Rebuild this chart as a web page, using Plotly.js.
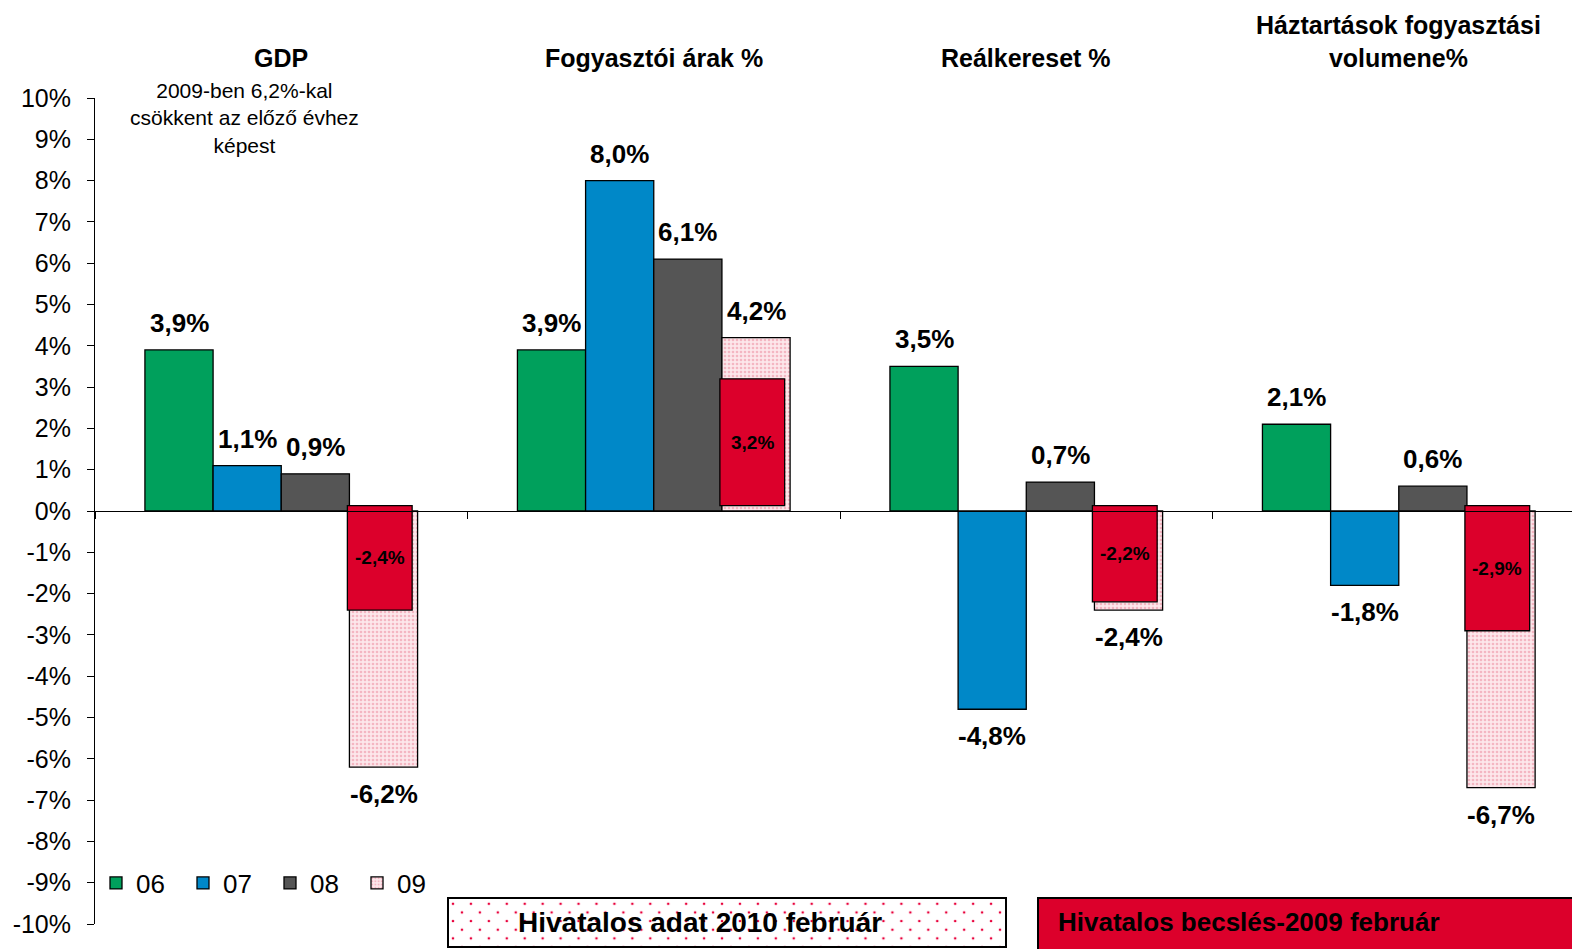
<!DOCTYPE html>
<html>
<head>
<meta charset="utf-8">
<script src="https://cdn.plot.ly/plotly-3.0.1.min.js"></script>
<style>html,body{margin:0;padding:0;background:#fff;}#chart{width:1572px;height:949px;}</style>
</head>
<body>
<div id="chart"></div>
<script>
// ---- data ----
const categories = ['GDP', 'Fogyasztói árak %', 'Reálkereset %', 'Háztartások fogyasztási<br>volumene%'];
const seriesNames = ['06', '07', '08', '09'];
const values06 = [3.9, 3.9, 3.5, 2.1];
const values07 = [1.1, 8.0, -4.8, -1.8];
const values08 = [0.9, 6.1, 0.7, 0.6];
const values09 = [-6.2, 4.2, -2.4, -6.7];
const estimate2009Feb = [-2.4, 3.2, -2.2, -2.9];
const yTickVals = [10, 9, 8, 7, 6, 5, 4, 3, 2, 1, 0, -1, -2, -3, -4, -5, -6, -7, -8, -9, -10];
const yTickText = yTickVals.map(v => v + '%');
const gdpNote = '2009-ben 6,2%-kal<br>csökkent az előző évhez<br>képest';
const boxLabelOfficial = 'Hivatalos adat 2010 február';
const boxLabelEstimate = 'Hivatalos becslés-2009 február';

// ---- style ----
const FONT = 'Liberation Sans, Arial, sans-serif';
const colors = ['#00a05c', '#0088c8', '#555555', '#fde3e8'];
const RED = '#dc002b';
const BARGAP = 0.268;
const BW = (1 - BARGAP) / 4;
const RED_OFFSET = BW * 0.97;
const RED_WIDTH = BW * 0.95;
const redBaseline = 0.13;
const fmt = v => v.toFixed(1).replace('.', ',') + '%';

const seriesValues = [values06, values07, values08, values09];

const traces = seriesValues.map((vals, si) => {
  const t = {
    type: 'bar',
    name: seriesNames[si],
    x: categories,
    y: vals,
    marker: {color: colors[si], line: {color: '#000', width: 1.3}},
    hoverinfo: 'skip'
  };
  if (si === 3) {
    t.marker.pattern = {shape: '.', fgcolor: '#f4b6c2', bgcolor: '#fde7eb', size: 4, solidity: 0.35, fillmode: 'replace'};
  }
  return t;
});

traces.push({
  type: 'bar',
  name: 'becslés',
  showlegend: false,
  x: categories,
  base: estimate2009Feb.map(() => redBaseline),
  y: estimate2009Feb.map(v => v - redBaseline),
  offset: RED_OFFSET,
  width: RED_WIDTH,
  marker: {color: RED, line: {color: '#000', width: 1.3}},
  hoverinfo: 'skip'
});

const annotations = [];
// data labels
seriesValues.forEach((vals, si) => {
  vals.forEach((v, gi) => {
    annotations.push({
      xref: 'x', yref: 'y',
      x: gi + (si - 1.5) * BW,
      y: v,
      text: fmt(v),
      showarrow: false,
      xanchor: 'center',
      yanchor: v >= 0 ? 'bottom' : 'top',
      yshift: v >= 0 ? 10 : -10,
      font: {family: FONT, size: 26, color: '#000', weight: 'bold'}
    });
  });
});
// red estimate labels (inside box)
estimate2009Feb.forEach((v, gi) => {
  annotations.push({
    xref: 'x', yref: 'y',
    x: gi + RED_OFFSET + RED_WIDTH / 2,
    y: (v + redBaseline) / 2,
    text: fmt(v), showarrow: false, xanchor: 'center', yanchor: 'middle',
    font: {family: FONT, size: 19, color: '#000', weight: 'bold'}
  });
});
// group titles
categories.forEach((c, gi) => {
  annotations.push({
    xref: 'x', yref: 'paper', x: gi, y: 1,
    text: c, showarrow: false, xanchor: 'center', yanchor: 'bottom', yshift: 24,
    font: {family: FONT, size: 25, color: '#000', weight: 'bold'}
  });
});
// GDP note
annotations.push({
  xref: 'x', yref: 'paper', x: 0, y: 1, xshift: -37, yshift: 21,
  text: gdpNote, showarrow: false, xanchor: 'center', yanchor: 'top',
  font: {family: FONT, size: 21, color: '#000'}
});
// bottom boxes text
const px = p => (p - 95) / 1477;
const py = p => (924 - p) / 826;
annotations.push({
  xref: 'paper', yref: 'paper', x: px(700), y: py(922),
  text: boxLabelOfficial, showarrow: false, xanchor: 'center', yanchor: 'middle',
  font: {family: FONT, size: 28, color: '#000', weight: 'bold'}
});
annotations.push({
  xref: 'paper', yref: 'paper', x: px(1056), y: py(922),
  text: boxLabelEstimate, showarrow: false, xanchor: 'left', yanchor: 'middle',
  font: {family: FONT, size: 26, color: '#000', weight: 'bold'}
});

const dotSvg = "<svg xmlns='http://www.w3.org/2000/svg' width='558' height='50' viewBox='0 0 558 50'>" +
  "<defs><pattern id='p' width='18' height='18' patternUnits='userSpaceOnUse'>" +
  "<circle cx='4' cy='5' r='1.3' fill='#e8003a'/><circle cx='13' cy='14' r='1.3' fill='#e8003a'/>" +
  "</pattern></defs><rect width='558' height='50' fill='#ffffff'/><rect width='558' height='50' fill='url(#p)'/></svg>";

const layout = {
  width: 1572, height: 949,
  margin: {l: 95, r: 0, t: 98, b: 25},
  paper_bgcolor: '#fff', plot_bgcolor: 'rgba(0,0,0,0)',
  font: {family: FONT, color: '#000'},
  barmode: 'group', bargap: BARGAP, bargroupgap: 0,
  showlegend: true,
  legend: {
    orientation: 'h', x: px(96), y: py(883), xanchor: 'left', yanchor: 'middle',
    font: {family: FONT, size: 26, color: '#000'},
    entrywidth: 42, entrywidthmode: 'pixels', itemwidth: 30,
    bgcolor: 'rgba(0,0,0,0)', traceorder: 'normal'
  },
  xaxis: {
    type: 'category', range: [-0.5, 3.465], autorange: false,
    anchor: 'free', position: 0.5,
    showline: true, linecolor: '#000', linewidth: 1,
    ticks: 'outside', tickson: 'boundaries', ticklen: 7, tickcolor: '#000', tickwidth: 1,
    showticklabels: false, showgrid: false, zeroline: false, fixedrange: true
  },
  yaxis: {
    range: [-10, 10], autorange: false,
    tickvals: yTickVals, ticktext: yTickText,
    ticks: 'outside', ticklen: 7, tickcolor: '#000', tickwidth: 1,
    ticklabelstandoff: 11,
    showline: true, linecolor: '#000', linewidth: 1,
    showgrid: false, zeroline: false,
    tickfont: {family: FONT, size: 25, color: '#000'}, fixedrange: true
  },
  annotations: annotations,
  images: [{
    source: 'data:image/svg+xml;charset=utf-8,' + encodeURIComponent(dotSvg),
    xref: 'paper', yref: 'paper', x: px(449), y: py(899), sizex: px(1005) - px(449), sizey: py(899) - py(947),
    xanchor: 'left', yanchor: 'top', sizing: 'stretch', layer: 'above'
  }],
  shapes: [
    {type: 'rect', xref: 'paper', yref: 'paper', x0: px(448), x1: px(1006), y0: py(947), y1: py(898),
     line: {color: '#000', width: 2}, fillcolor: 'rgba(0,0,0,0)'},
    {type: 'rect', xref: 'paper', yref: 'paper', x0: px(1038), x1: px(1590), y0: py(960), y1: py(898),
     line: {color: '#000', width: 2}, fillcolor: RED}
  ]
};

Plotly.newPlot('chart', traces, layout, {staticPlot: true, displayModeBar: false});
</script>
</body>
</html>
